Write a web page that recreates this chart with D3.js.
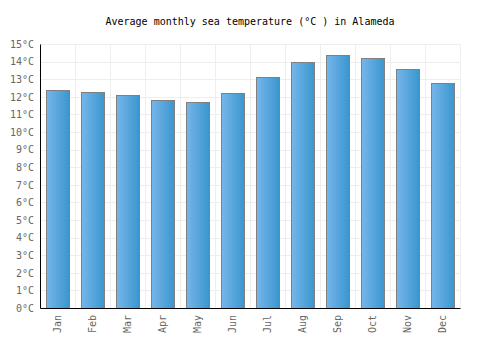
<!DOCTYPE html>
<html><head><meta charset="utf-8">
<script src="https://cdn.jsdelivr.net/npm/d3@7"></script>
<style>body{margin:0;background:#fff}svg{display:block}</style>
</head><body>
<script>
const months = ["Jan","Feb","Mar","Apr","May","Jun","Jul","Aug","Sep","Oct","Nov","Dec"];
const temps = [12.4,12.3,12.1,11.8,11.7,12.2,13.1,14.0,14.4,14.2,13.6,12.8];
const yTicks = [0,1,2,3,4,5,6,7,8,9,10,11,12,13,14,15];
const title = "Average monthly sea temperature (°C ) in Alameda";

const W=500,H=350, L=40, R=460, T=44, B=308;
const svg=d3.select("body").append("svg").attr("width",W).attr("height",H);
const font="'DejaVu Sans Mono', monospace";
const defs=svg.append("defs");
const g=defs.append("linearGradient").attr("id","bg").attr("x1","0%").attr("x2","100%");
g.append("stop").attr("offset","0%").attr("stop-color","#76b6ea");
g.append("stop").attr("offset","100%").attr("stop-color","#3a96cf");

const x=d3.scaleBand().domain(months).range([L,R]).paddingInner(0.34).paddingOuter(0.17);
const xb=d3.scaleBand().domain(months).range([L,R]);
const y=d3.scaleLinear().domain([0,15]).range([B,T]);

// grid
const grid=svg.append("g").attr("stroke","#eeeeee").attr("stroke-width",1);
yTicks.forEach(t=>grid.append("line").attr("x1",L).attr("x2",R).attr("y1",Math.round(y(t))+0.5).attr("y2",Math.round(y(t))+0.5));
months.forEach((m,i)=>{const xx=Math.round(xb(m)+xb.bandwidth())+0.5; grid.append("line").attr("x1",xx).attr("x2",xx).attr("y1",T).attr("y2",B);});

svg.append("text").attr("x",250).attr("y",25).attr("text-anchor","middle")
 .attr("font-family",font).attr("font-size",10).attr("fill","#000").text(title);

svg.append("g").selectAll("rect").data(temps).join("rect")
 .attr("x",(d,i)=>Math.round(x(months[i]))+0.5)
 .attr("width",Math.round(x.bandwidth()))
 .attr("y",d=>Math.round(y(d))+0.5)
 .attr("height",d=>B-Math.round(y(d)))
 .attr("fill","url(#bg)").attr("stroke","#808080").attr("stroke-width",1);

const ya=svg.append("g").attr("transform",`translate(${L},0)`)
 .call(d3.axisLeft(y).tickValues(yTicks).tickSize(0).tickPadding(6).tickFormat(d=>d+"°C"));
ya.select(".domain").attr("stroke","#000").attr("stroke-width",1);
ya.selectAll("text").attr("font-family",font).attr("font-size",10).attr("fill","#666");

const xa=svg.append("g").attr("transform",`translate(0,${B})`)
 .call(d3.axisBottom(xb).tickSize(0).tickPadding(0));
xa.select(".domain").attr("stroke","#000").attr("stroke-width",1);
xa.selectAll("text").attr("font-family",font).attr("font-size",10).attr("fill","#666")
 .attr("transform","rotate(-90)").attr("text-anchor","end").attr("dy","0.35em").attr("x",-7).attr("y",0);
</script>
</body></html>
